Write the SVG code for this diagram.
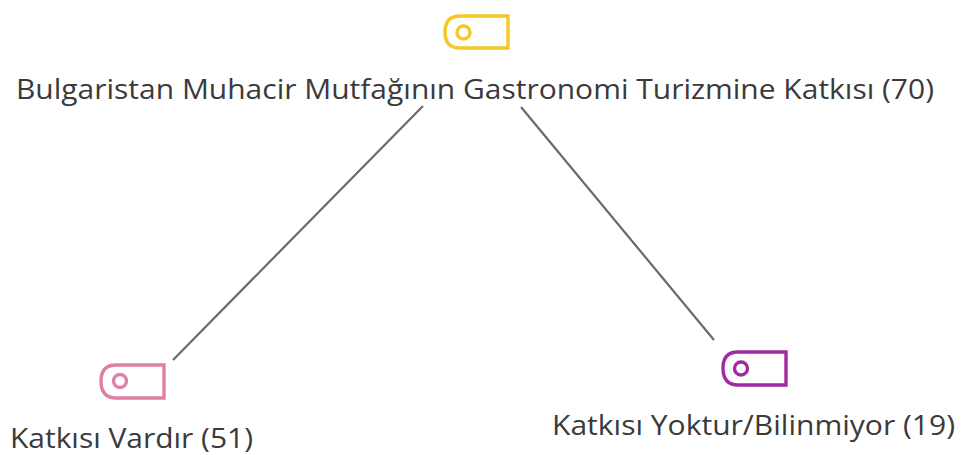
<svg xmlns="http://www.w3.org/2000/svg" width="962" height="455" viewBox="0 0 962 455">
<style>
text{font-family:"Open Sans","Noto Sans","Liberation Sans",sans-serif;font-size:26.5px;fill:#3a3a3a}
.l{stroke:#6a6a6a;stroke-width:2.2;fill:none}
.t{fill:none;stroke-width:3.4}
</style>
<rect width="962" height="455" fill="#fff"/>
<g id="connectors">
<line class="l" x1="423" y1="106" x2="173" y2="360"/>
<line class="l" x1="521" y1="107" x2="714" y2="340"/>
</g>
<g id="node-root">
<path class="t" stroke="#f2c925" d="M460 16H508V48H460Q445 48 445 32Q445 16 460 16Z"/>
<circle class="t" stroke="#f2c925" cx="463.500" cy="32.500" r="6.500"/>
<text x="16" y="99" textLength="918" lengthAdjust="spacingAndGlyphs">Bulgaristan Muhacir Mutfağının Gastronomi Turizmine Katkısı (70)</text>
</g>
<g id="node-left">
<path class="t" stroke="#df7fa8" d="M116 365H164V398H116Q101 398 101 381Q101 365 116 365Z"/>
<circle class="t" stroke="#df7fa8" cx="120" cy="381" r="6.500"/>
<text x="10" y="448" textLength="243" lengthAdjust="spacingAndGlyphs">Katkısı Vardır (51)</text>
</g>
<g id="node-right">
<path class="t" stroke="#a02ba0" d="M738 352H786V385H738Q723 385 723 368Q723 352 738 352Z"/>
<circle class="t" stroke="#a02ba0" cx="741" cy="368.500" r="6.500"/>
<text x="552" y="435" textLength="403" lengthAdjust="spacingAndGlyphs">Katkısı Yoktur/Bilinmiyor (19)</text>
</g>
</svg>
